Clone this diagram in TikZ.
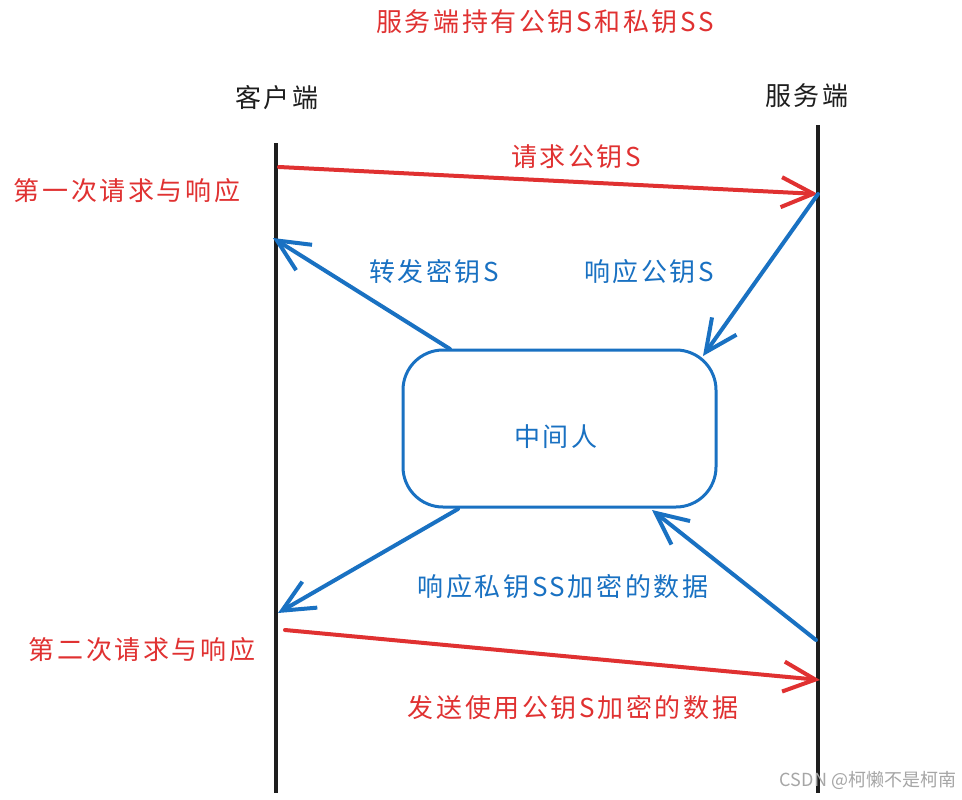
\documentclass[tikz,border=0pt]{standalone}
\usepackage{fontspec}
\setmainfont{Noto Sans CJK SC}[LetterSpace=10]
\usetikzlibrary{arrows.meta}
\definecolor{exred}{HTML}{E03131}
\definecolor{exblue}{HTML}{1971C2}
\definecolor{exblack}{HTML}{1E1E1E}
\tikzset{
  lifeline/.style={draw=exblack, line width=4.5pt},
  msg/.style={line width=4pt, line cap=round, -{Straight Barb[length=32pt,width=30pt,line width=4pt]}},
  redmsg/.style={msg, draw=exred},
  bluemsg/.style={msg, draw=exblue},
  lbl/.style={font=\fontsize{26}{30}\selectfont, inner sep=0pt},
  redtxt/.style={lbl, text=exred},
  bluetxt/.style={lbl, text=exblue},
  blacktxt/.style={lbl, text=exblack},
  boxstyle/.style={draw=exblue, line width=3pt, rounded corners=40pt, minimum width=313pt, minimum height=157pt}
}
\begin{document}
\begin{tikzpicture}[x=1pt,y=-1pt]
\useasboundingbox (0,0) rectangle (962,800);
\fill[white] (0,0) rectangle (962,800);
% lifelines
\coordinate (c0) at (276,143);
\coordinate (c1) at (276,793);
\coordinate (s0) at (818,125);
\coordinate (s1) at (818,793);
\draw[lifeline] (c0) -- (c1);
\draw[lifeline] (s0) -- (s1);
% titles
\node[redtxt] (title) at (545,22) {服务端持有公钥S和私钥SS};
\node[blacktxt] (client) at (277,98) {客户端};
\node[blacktxt] (server) at (807,96) {服务端};
\node[redtxt] (first) at (127,191) {第一次请求与响应};
\node[redtxt] (second) at (142,650) {第二次请求与响应};
% middle box
\node[boxstyle] (mitm) at (559.5,428.5) {};
\node[bluetxt] (mitmtxt) at (556,437) {中间人};
% endpoints
\coordinate (a1s) at (279,167);
\coordinate (a1e) at (818,194);
\coordinate (a2e) at (703,356);
\coordinate (a3s) at (450,349);
\coordinate (a3e) at (273,238);
\coordinate (a4s) at (458,509);
\coordinate (a4e) at (278,613);
\coordinate (a5s) at (816,640);
\coordinate (a5e) at (652,510);
\coordinate (a6s) at (285,630);
\coordinate (a6e) at (820,680);
% arrows
\draw[redmsg] (a1s) -- (a1e);
\draw[bluemsg] (a1e) -- (a2e);
\draw[bluemsg] (a3s) -- (a3e);
\draw[bluemsg] (a4s) -- (a4e);
\draw[bluemsg] (a5s) -- (a5e);
\draw[redmsg] (a6s) -- (a6e);
% labels
\node[redtxt] (l1) at (576,157) {请求公钥S};
\node[bluetxt] (l2) at (649,272) {响应公钥S};
\node[bluetxt] (l3) at (434,272) {转发密钥S};
\node[bluetxt] (l4) at (563,587) {响应私钥SS加密的数据};
\node[redtxt] (l5) at (573,708) {发送使用公钥S加密的数据};
% watermark
\node[text=black!35, font=\fontsize{18}{20}\selectfont\addfontfeature{LetterSpace=0}, inner sep=0pt] (wm) at (868,780) {CSDN @柯懒不是柯南};
\end{tikzpicture}
\end{document}
